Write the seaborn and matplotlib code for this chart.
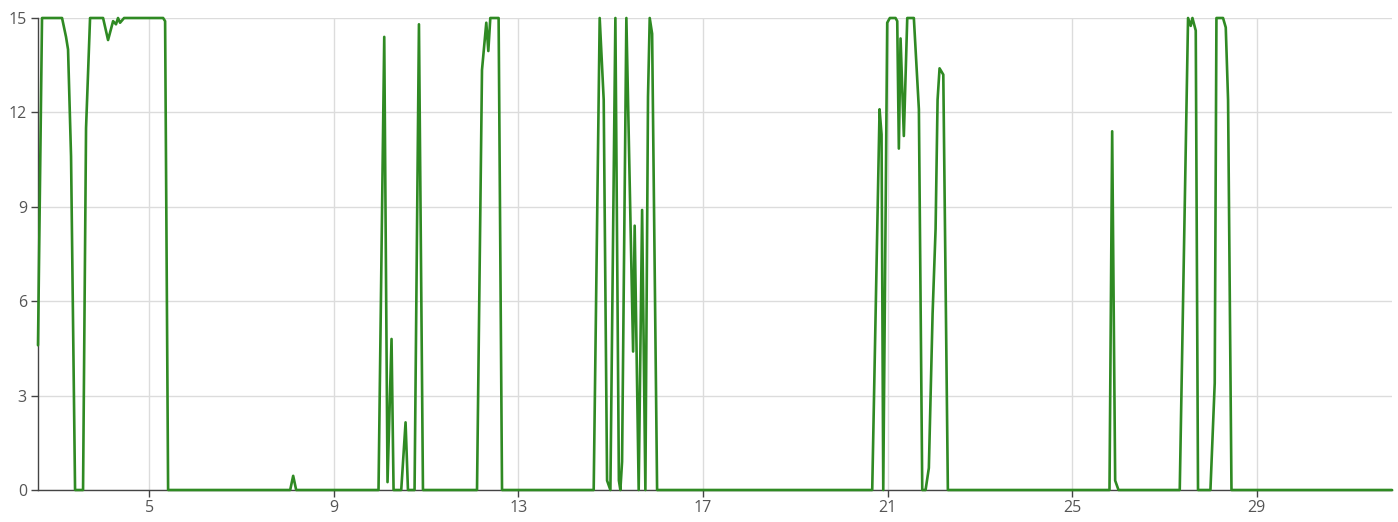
import matplotlib
matplotlib.use("Agg")
import matplotlib.pyplot as plt
import seaborn as sns
import pandas as pd

# day of month (fractional) and value
days = [
    2.593, 2.680, 3.114, 3.200, 3.244, 3.309, 3.396, 3.569, 3.634, 3.721,
    4.003, 4.111, 4.220, 4.283, 4.327, 4.371, 4.458, 4.588, 5.304, 5.347, 5.412,
    8.057, 8.122, 8.187,
    9.971, 10.095, 10.166, 10.253, 10.297, 10.463, 10.557, 10.609, 10.752, 10.847, 10.934,
    12.105, 12.213, 12.306, 12.350, 12.393, 12.573, 12.647,
    14.633, 14.763, 14.850, 14.923, 14.995, 15.103, 15.179, 15.211, 15.248, 15.341,
    15.487, 15.521, 15.608, 15.682, 15.753, 15.810, 15.847, 15.899, 16.007,
    20.668, 20.827, 20.870, 20.907, 20.993, 21.050, 21.173, 21.210, 21.245, 21.282,
    21.353, 21.427, 21.570, 21.679, 21.752, 21.824, 21.895, 21.976, 22.041, 22.084,
    22.127, 22.208, 22.307,
    25.809, 25.867, 25.932, 26.004,
    27.331, 27.511, 27.569, 27.606, 27.678, 27.727, 27.996, 28.089, 28.126, 28.176,
    28.269, 28.328, 28.378, 28.452,
    31.93,
]
values = [
    4.6, 15.0, 15.0, 14.4, 14.0, 10.6, 0.0, 0.0, 11.5, 15.0,
    15.0, 14.3, 14.9, 14.8, 15.0, 14.85, 15.0, 15.0, 15.0, 14.9, 0.0,
    0.0, 0.45, 0.0,
    0.0, 14.4, 0.25, 4.8, 0.0, 0.0, 2.15, 0.0, 0.0, 14.8, 0.0,
    0.0, 13.35, 14.85, 13.95, 15.0, 15.0, 0.0,
    0.0, 15.0, 12.4, 0.3, 0.0, 15.0, 0.3, 0.0, 0.9, 15.0,
    4.4, 8.4, 0.0, 8.9, 0.0, 12.5, 15.0, 14.5, 0.0,
    0.0, 12.1, 11.3, 0.0, 14.85, 15.0, 15.0, 14.9, 10.85, 14.35,
    11.25, 15.0, 15.0, 12.1, 0.0, 0.0, 0.7, 5.6, 8.3, 12.4,
    13.4, 13.2, 0.0,
    0.0, 11.4, 0.3, 0.0,
    0.0, 15.0, 14.75, 15.0, 14.6, 0.0, 0.0, 3.4, 15.0, 15.0,
    15.0, 14.7, 12.4, 0.0,
    0.0,
]
xticks = [5, 9, 13, 17, 21, 25, 29]
yticks = [0, 3, 6, 9, 12, 15]

df = pd.DataFrame({"day": days, "value": values})

sns.set_style("white")
plt.rcParams["font.family"] = ["Open Sans", "DejaVu Sans"]

fig = plt.figure(figsize=(13.98, 5.22), dpi=100)
ax = fig.add_axes([38 / 1398, 32 / 522, (1392 - 38) / 1398, (490 - 18) / 522])

sns.lineplot(data=df, x="day", y="value", ax=ax, color="#2f8a23",
             linewidth=1.9, estimator=None, sort=False, clip_on=False, zorder=3)

ax.set_xlim(2.593, 31.93)
ax.set_ylim(0, 15)
ax.set_xticks(xticks)
ax.set_yticks(yticks)
ax.set_xlabel("")
ax.set_ylabel("")
ax.grid(True, color="#dcdcdc", linewidth=1.0)
ax.set_axisbelow(True)

for side in ["top", "right"]:
    ax.spines[side].set_visible(False)
for side in ["left", "bottom"]:
    ax.spines[side].set_color("#444444")
    ax.spines[side].set_linewidth(1.0)

ax.tick_params(axis="both", which="major", length=5, width=1, color="#444444",
               labelsize=11.5, labelcolor="#555555", direction="out")
ax.tick_params(axis="x", pad=2)
ax.tick_params(axis="y", pad=3)
ax.tick_params(left=True, bottom=True)

fig.savefig("out.png", dpi=100)
